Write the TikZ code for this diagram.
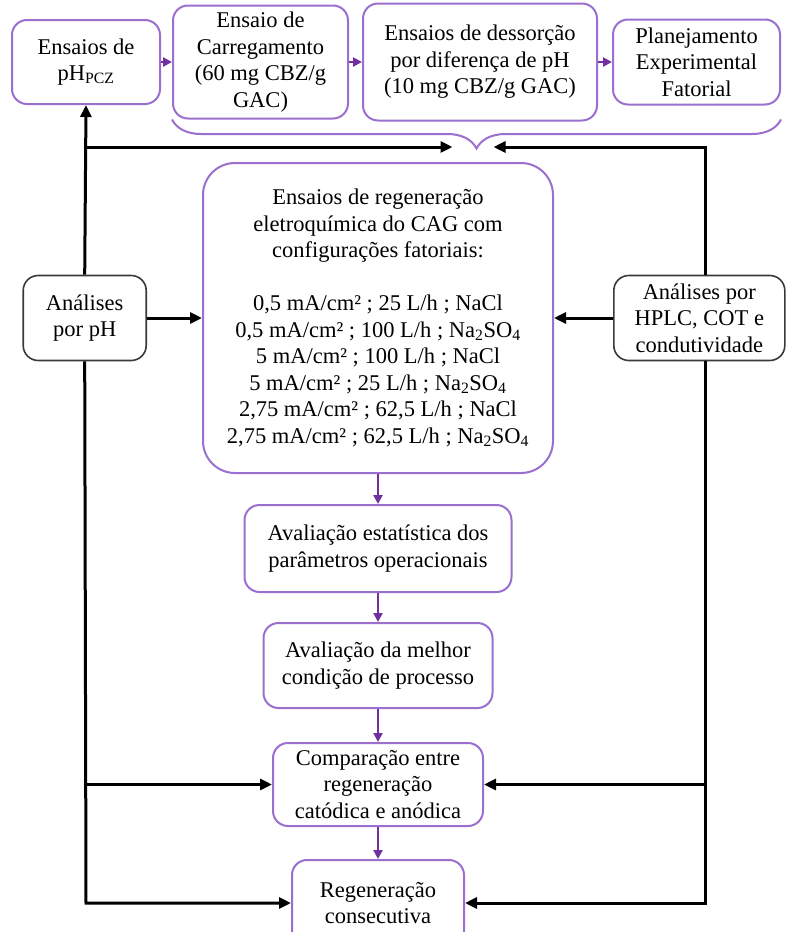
\documentclass[tikz,border=0pt]{standalone}
\usepackage{fontspec}
\setmainfont{Liberation Serif}
\usepackage{tikz}
\usetikzlibrary{arrows.meta, positioning, calc, decorations.pathreplacing}
\definecolor{boxpurple}{HTML}{9B6FCF}
\definecolor{arrowpurple}{HTML}{7030A0}
\definecolor{analysisgray}{HTML}{3A3A3A}

\begin{document}
\begin{tikzpicture}[x=1pt, y=1pt,
  procbox/.style={draw=boxpurple, line width=2pt, rounded corners=15pt, fill=white,
    align=center, inner sep=0pt, font=\fontsize{22.5}{26.5}\selectfont},
  anbox/.style={procbox, draw=analysisgray, line width=1.6pt},
  flowarrow/.style={-{Triangle[length=9pt,width=9pt]}, line width=2.8pt, arrowpurple},
  linkarrow/.style={-{Triangle[length=12pt,width=11pt]}, line width=3pt, black}]
  \useasboundingbox (0,0) rectangle (787,-932);

  % top row
  \node[procbox, minimum width=148pt, minimum height=84pt] (phpcz) at (86,-62) {Ensaios de\\pH\textsubscript{PCZ}};
  \node[procbox, minimum width=175pt, minimum height=113pt, right=11pt of phpcz] (loading) {Ensaio de\\Carregamento\\(60 mg CBZ/g\\GAC)};
  \node[procbox, minimum width=234pt, minimum height=117pt, right=13pt of loading] (desorb) {Ensaios de dessorção\\por diferença de pH\\(10 mg CBZ/g GAC)};
  \node[procbox, minimum width=167pt, minimum height=85pt, right=14pt of desorb] (plan) {Planejamento\\Experimental\\Fatorial};

  % central column
  \node[procbox, rounded corners=32pt, minimum width=350pt, minimum height=310pt] (regen) at (378,-318)
    {Ensaios de regeneração\\eletroquímica do CAG com\\configurações fatoriais:\\[26.5pt]
     0,5 mA/cm² ; 25 L/h ; NaCl\\
     0,5 mA/cm² ; 100 L/h ; Na\textsubscript{2}SO\textsubscript{4}\\
     5 mA/cm² ; 100 L/h ; NaCl\\
     5 mA/cm² ; 25 L/h ; Na\textsubscript{2}SO\textsubscript{4}\\
     2,75 mA/cm² ; 62,5 L/h ; NaCl\\
     2,75 mA/cm² ; 62,5 L/h ; Na\textsubscript{2}SO\textsubscript{4}};
  \node[procbox, minimum width=267pt, minimum height=87pt, below=30pt of regen] (stats) {Avaliação estatística dos\\parâmetros operacionais};
  \node[procbox, minimum width=229pt, minimum height=85pt, below=29pt of stats] (best) {Avaliação da melhor\\condição de processo};
  \node[procbox, minimum width=210pt, minimum height=83pt, below=33pt of best] (compare) {Comparação entre\\regeneração\\catódica e anódica};
  \node[procbox, minimum width=172pt, minimum height=86pt, below=32pt of compare] (consec) {Regeneração\\consecutiva};

  % analysis boxes
  \node[anbox, minimum width=123pt, minimum height=85pt, left=55pt of regen] (phan) {Análises\\por pH};
  \node[anbox, minimum width=171pt, minimum height=85pt, right=59pt of regen] (hplc) {Análises por\\HPLC, COT e\\condutividade};

  % brace under the top row
  \draw[boxpurple, line width=2pt, decorate, decoration={brace, amplitude=29pt, mirror}]
    (loading.south west) -- (loading.south west -| plan.east);
  \coordinate (brtip) at (473.5,-147);
  \coordinate (ltop) at (phpcz.south |- brtip);
  \coordinate (rtop) at (705,-147);
  \coordinate (lbot) at (phpcz.south |- consec.west);
  \coordinate (rbot) at (rtop |- consec.east);

  % purple flow
  \draw[flowarrow] (phpcz) -- (loading);
  \draw[flowarrow] (loading) -- (desorb);
  \draw[flowarrow] (desorb) -- (plan);
  \draw[flowarrow] (regen) -- (stats);
  \draw[flowarrow] (stats) -- (best);
  \draw[flowarrow] (best) -- (compare);
  \draw[flowarrow] (compare) -- (consec);

  % black links, left side
  \draw[linkarrow] (phan.north) -- (phpcz.south);
  \draw[linkarrow] (ltop) -- ([xshift=-21pt]brtip);
  \draw[linkarrow] (phan) -- (regen);
  \draw[linkarrow] (lbot |- compare.west) -- (compare.west);
  \draw[linkarrow] (phan.south) -- (lbot) -- (consec.west);

  % black links, right side
  \draw[linkarrow] (rtop |- hplc.north) -- (rtop) -- ([xshift=20pt]brtip);
  \draw[linkarrow] (hplc) -- (regen);
  \draw[linkarrow] (rbot |- compare.east) -- (compare.east);
  \draw[linkarrow] (rtop |- hplc.south) -- (rbot) -- (consec.east);
\end{tikzpicture}
\end{document}
